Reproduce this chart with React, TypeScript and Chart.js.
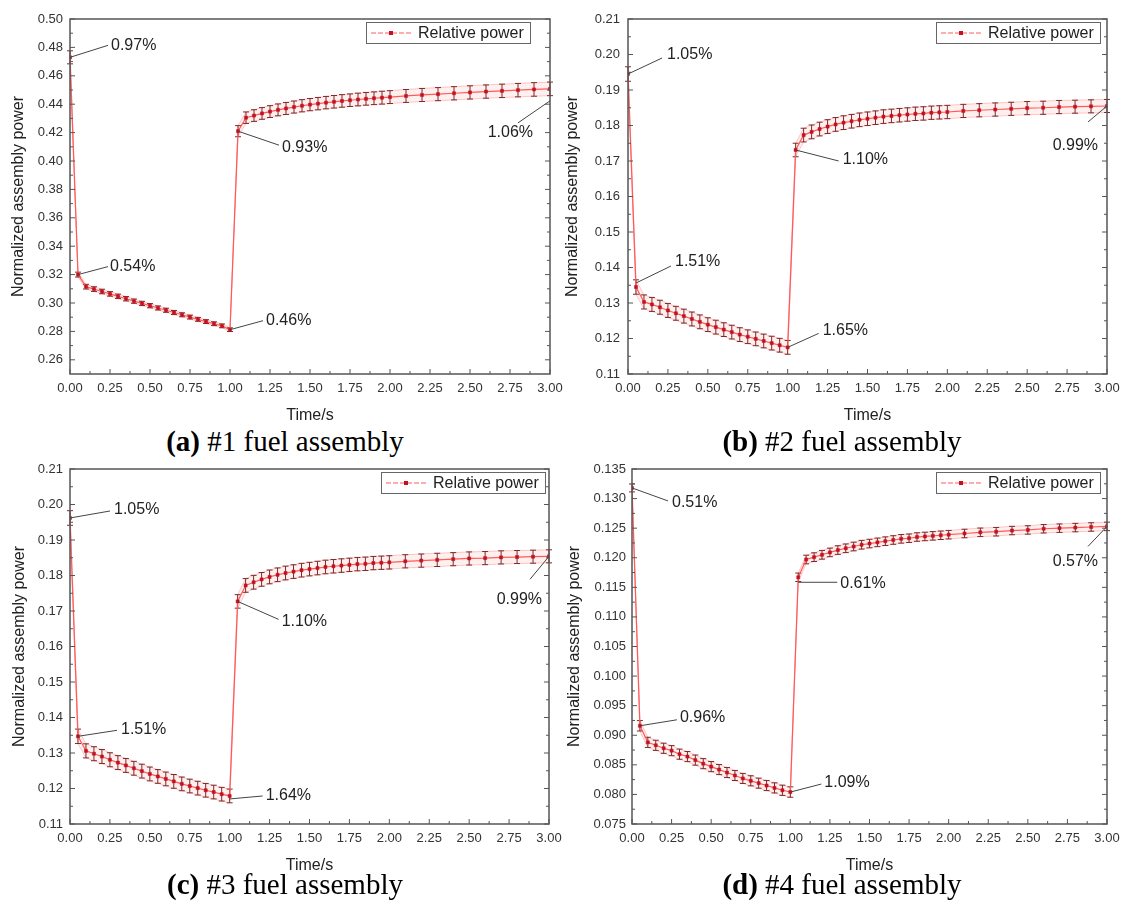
import React, { useEffect, useRef } from "react";
import { Chart, registerables } from "chart.js";

Chart.register(...registerables);

// ---------- data ----------
const timeS = [
  0, 0.05,
  0.1, 0.15, 0.2, 0.25, 0.3, 0.35, 0.4, 0.45, 0.5, 0.55, 0.6, 0.65, 0.7, 0.75, 0.8, 0.85, 0.9, 0.95, 1.0,
  1.05,
  1.1, 1.15, 1.2, 1.25, 1.3, 1.35, 1.4, 1.45, 1.5, 1.55, 1.6, 1.65, 1.7, 1.75, 1.8, 1.85, 1.9, 1.95, 2.0,
  2.1, 2.2, 2.3, 2.4, 2.5, 2.6, 2.7, 2.8, 2.9, 3.0,
];

const xTicks = [0, 0.25, 0.5, 0.75, 1, 1.25, 1.5, 1.75, 2, 2.25, 2.5, 2.75, 3];

// #1 fuel assembly
const powerA = [
  0.473, 0.320,
  0.3115, 0.3098, 0.3081, 0.3064, 0.3047, 0.3030, 0.3013, 0.2997, 0.2981, 0.2965,
  0.2949, 0.2933, 0.2917, 0.2901, 0.2885, 0.2869, 0.2854, 0.2839, 0.2812,
  0.421,
  0.4305, 0.4320, 0.4335, 0.4348, 0.4360, 0.4370, 0.4380, 0.4389, 0.4397, 0.4404,
  0.4411, 0.4417, 0.4423, 0.4428, 0.4433, 0.4438, 0.4442, 0.4446, 0.4450,
  0.4458, 0.4465, 0.4471, 0.4477, 0.4483, 0.4489, 0.4494, 0.4499, 0.4504, 0.4508,
];
const errA = [
  0.97, 0.54,
  0.53, 0.53, 0.52, 0.52, 0.51, 0.51, 0.50, 0.50, 0.50, 0.49,
  0.49, 0.49, 0.48, 0.48, 0.48, 0.47, 0.47, 0.47, 0.46,
  0.93,
  0.94, 0.95, 0.95, 0.96, 0.96, 0.97, 0.97, 0.98, 0.98, 0.99,
  0.99, 1.00, 1.00, 1.00, 1.01, 1.01, 1.01, 1.02, 1.02,
  1.02, 1.03, 1.03, 1.04, 1.04, 1.04, 1.05, 1.05, 1.06, 1.06,
];

// #2 fuel assembly
const powerB = [
  0.1945, 0.1345,
  0.1303, 0.1296, 0.1288, 0.1279, 0.1271, 0.1263, 0.1255, 0.1247, 0.1239, 0.1232,
  0.1225, 0.1218, 0.1211, 0.1205, 0.1199, 0.1193, 0.1187, 0.1181, 0.1175,
  0.1731,
  0.1773, 0.1782, 0.1790, 0.1797, 0.1803, 0.1808, 0.1812, 0.1816, 0.1819, 0.1822,
  0.1825, 0.1827, 0.1829, 0.1831, 0.1833, 0.1834, 0.1836, 0.1837, 0.1838,
  0.1841, 0.1843, 0.1845, 0.1847, 0.1849, 0.1850, 0.1852, 0.1853, 0.1854, 0.1855,
];
const errB = [
  1.05, 1.51,
  1.52, 1.52, 1.53, 1.54, 1.54, 1.55, 1.56, 1.56, 1.57, 1.58,
  1.58, 1.59, 1.60, 1.60, 1.61, 1.62, 1.63, 1.64, 1.65,
  1.10,
  1.09, 1.09, 1.08, 1.08, 1.07, 1.07, 1.06, 1.06, 1.05, 1.05,
  1.05, 1.04, 1.04, 1.03, 1.03, 1.03, 1.02, 1.02, 1.02,
  1.01, 1.01, 1.01, 1.00, 1.00, 1.00, 1.00, 0.99, 0.99, 0.99,
];

// #3 fuel assembly
const powerC = [
  0.1962, 0.1347,
  0.1306, 0.1298, 0.1290, 0.1281, 0.1273, 0.1265, 0.1257, 0.1249, 0.1241, 0.1234,
  0.1227, 0.1220, 0.1213, 0.1207, 0.1201, 0.1195, 0.1190, 0.1184, 0.1179,
  0.1727,
  0.1772, 0.1781, 0.1789, 0.1796, 0.1802, 0.1807, 0.1811, 0.1815, 0.1818, 0.1821,
  0.1824, 0.1826, 0.1828, 0.1830, 0.1832, 0.1833, 0.1835, 0.1836, 0.1837,
  0.1840, 0.1842, 0.1844, 0.1846, 0.1848, 0.1849, 0.1851, 0.1852, 0.1853, 0.1854,
];
const errC = [
  1.05, 1.51,
  1.52, 1.52, 1.53, 1.54, 1.54, 1.55, 1.55, 1.56, 1.57, 1.57,
  1.58, 1.59, 1.59, 1.60, 1.61, 1.61, 1.62, 1.63, 1.64,
  1.10,
  1.09, 1.09, 1.08, 1.08, 1.07, 1.07, 1.06, 1.06, 1.05, 1.05,
  1.05, 1.04, 1.04, 1.03, 1.03, 1.03, 1.02, 1.02, 1.02,
  1.01, 1.01, 1.01, 1.00, 1.00, 1.00, 1.00, 0.99, 0.99, 0.99,
];

// #4 fuel assembly
const powerD = [
  0.1318, 0.0916,
  0.0888, 0.0883, 0.0878, 0.0874, 0.0868, 0.0864, 0.0858, 0.0852, 0.0847, 0.0842,
  0.0837, 0.0832, 0.0827, 0.0823, 0.0819, 0.0815, 0.0811, 0.0807, 0.0804,
  0.1167,
  0.1197, 0.1201, 0.1205, 0.1209, 0.1213, 0.1216, 0.1219, 0.1222, 0.1224, 0.1226,
  0.1228, 0.1230, 0.1232, 0.1233, 0.1235, 0.1236, 0.1237, 0.1238, 0.1239,
  0.1241, 0.1243, 0.1244, 0.1246, 0.1247, 0.1249, 0.1250, 0.1251, 0.1252, 0.1253,
];
const errD = [
  0.51, 0.96,
  0.97, 0.97, 0.98, 0.98, 0.99, 0.99, 1.00, 1.00, 1.01, 1.01,
  1.02, 1.02, 1.03, 1.04, 1.04, 1.05, 1.06, 1.07, 1.09,
  0.61,
  0.61, 0.61, 0.61, 0.60, 0.60, 0.60, 0.60, 0.60, 0.59, 0.59,
  0.59, 0.59, 0.59, 0.58, 0.58, 0.58, 0.58, 0.58, 0.58,
  0.58, 0.58, 0.58, 0.57, 0.57, 0.57, 0.57, 0.57, 0.57, 0.57,
];

const yTicksA = [0.26, 0.28, 0.30, 0.32, 0.34, 0.36, 0.38, 0.40, 0.42, 0.44, 0.46, 0.48, 0.50];
const yTicksBC = [0.11, 0.12, 0.13, 0.14, 0.15, 0.16, 0.17, 0.18, 0.19, 0.20, 0.21];
const yTicksD = [0.075, 0.080, 0.085, 0.090, 0.095, 0.100, 0.105, 0.110, 0.115, 0.120, 0.125, 0.130, 0.135];
const yRangeA = [0.25, 0.50];
const yRangeBC = [0.11, 0.21];
const yRangeD = [0.075, 0.135];

const seriesLabel = "Relative power";
const xTitle = "Time/s";
const yTitle = "Normalized assembly power";
const captionTags = ["(a)", "(b)", "(c)", "(d)"];
const captionTexts = ["#1 fuel assembly", "#2 fuel assembly", "#3 fuel assembly", "#4 fuel assembly"];

// ---------- styles / layout ----------
const SANS = '"Liberation Sans", Arial, sans-serif';
const SERIF = '"Liberation Serif", "Times New Roman", serif';
const LINE_COLOR = "#ff5a5a";
const MARK_COLOR = "#c4101f";
const ERR_COLOR = "#7a2a2a";
const AXIS_COLOR = "#555";

type Ann = { i: number; sx?: number; sy?: number; lx: number; ly: number; tx: number; ty: number; align: CanvasTextAlign };

type PanelCfg = {
  values: number[]; errs: number[]; yTicks: number[]; yRange: number[]; digits: number;
  left: number; top: number; width: number; height: number;
  yAxisW: number; padRight: number; yTitlePad: number; yTickPad: number; legendGap: number;
  capCenter: number; capTop: number; tag: string; text: string; anns: Ann[];
};

const panels: PanelCfg[] = [
  {
    values: powerA, errs: errA, yTicks: yTicksA, yRange: yRangeA, digits: 2,
    left: 0, top: 0, width: 574, height: 425, yAxisW: 70, padRight: 24, yTitlePad: 9, yTickPad: 7, legendGap: 20,
    capCenter: 285, capTop: 427, tag: captionTags[0], text: captionTexts[0],
    anns: [
      { i: 0, lx: 38, ly: -12, tx: 41, ty: -12, align: "left" },
      { i: 1, lx: 30, ly: -8, tx: 32, ty: -8, align: "left" },
      { i: 20, lx: 33, ly: -9, tx: 36, ty: -9, align: "left" },
      { i: 21, lx: 41, ly: 14, tx: 44, ty: 16, align: "left" },
      { i: 50, sy: 12, lx: -32, ly: 34, tx: -17, ty: 44, align: "right" },
    ],
  },
  {
    values: powerB, errs: errB, yTicks: yTicksBC, yRange: yRangeBC, digits: 2,
    left: 560, top: 0, width: 566, height: 425, yAxisW: 68, padRight: 19, yTitlePad: 3, yTickPad: 8, legendGap: 7,
    capCenter: 842, capTop: 427, tag: captionTags[1], text: captionTexts[1],
    anns: [
      { i: 0, lx: 34, ly: -16, tx: 39, ty: -19, align: "left" },
      { i: 1, sy: -4, lx: 35, ly: -21, tx: 39, ty: -25, align: "left" },
      { i: 20, lx: 31, ly: -14, tx: 35, ty: -17, align: "left" },
      { i: 21, lx: 43, ly: 11, tx: 47, ty: 10, align: "left" },
      { i: 50, lx: -19, ly: 16, tx: -9, ty: 40, align: "right" },
    ],
  },
  {
    values: powerC, errs: errC, yTicks: yTicksBC, yRange: yRangeBC, digits: 2,
    left: 0, top: 450, width: 574, height: 425, yAxisW: 70, padRight: 25, yTitlePad: 10, yTickPad: 7, legendGap: 4,
    capCenter: 285, capTop: 870, tag: captionTags[2], text: captionTexts[2],
    anns: [
      { i: 0, lx: 40, ly: -7, tx: 44, ty: -8, align: "left" },
      { i: 1, lx: 39, ly: -6, tx: 43, ty: -7, align: "left" },
      { i: 20, sy: 3, lx: 33, ly: 0, tx: 36, ty: 0, align: "left" },
      { i: 21, lx: 41, ly: 18, tx: 44, ty: 20, align: "left" },
      { i: 50, lx: -19, ly: 23, tx: -7, ty: 43, align: "right" },
    ],
  },
  {
    values: powerD, errs: errD, yTicks: yTicksD, yRange: yRangeD, digits: 3,
    left: 560, top: 450, width: 566, height: 425, yAxisW: 72, padRight: 19, yTitlePad: 5, yTickPad: 6, legendGap: 7,
    capCenter: 842, capTop: 870, tag: captionTags[3], text: captionTexts[3],
    anns: [
      { i: 0, lx: 36, ly: 13, tx: 40, ty: 15, align: "left" },
      { i: 1, lx: 37, ly: -6, tx: 40, ty: -8, align: "left" },
      { i: 20, lx: 31, ly: -8, tx: 34, ty: -9, align: "left" },
      { i: 21, sy: 5, lx: 39, ly: 5, tx: 42, ty: 6, align: "left" },
      { i: 50, lx: -19, ly: 20, tx: -9, ty: 35, align: "right" },
    ],
  },
];

function line(ctx: CanvasRenderingContext2D, x1: number, y1: number, x2: number, y2: number) {
  ctx.beginPath();
  ctx.moveTo(x1, y1);
  ctx.lineTo(x2, y2);
  ctx.stroke();
}

function makePlugin(p: PanelCfg) {
  return {
    id: "deco",
    beforeDatasetDraw(chart: any, args: any) {
      if (args.index !== 0) return;
      const ctx: CanvasRenderingContext2D = chart.ctx;
      const xs = chart.scales.x;
      const ys = chart.scales.y;
      ctx.save();
      ctx.strokeStyle = ERR_COLOR;
      ctx.lineWidth = 1;
      p.values.forEach((v, i) => {
        const x = xs.getPixelForValue(timeS[i]);
        const e = (v * p.errs[i]) / 100;
        const y1 = ys.getPixelForValue(v + e);
        const y2 = ys.getPixelForValue(v - e);
        line(ctx, x, y1, x, y2);
        line(ctx, x - 3, y1, x + 3, y1);
        line(ctx, x - 3, y2, x + 3, y2);
      });
      ctx.restore();
    },
    afterDraw(chart: any) {
      const ctx: CanvasRenderingContext2D = chart.ctx;
      const xs = chart.scales.x;
      const ys = chart.scales.y;
      const { left, right, top, bottom } = chart.chartArea;
      ctx.save();
      // inward ticks
      ctx.strokeStyle = AXIS_COLOR;
      ctx.lineWidth = 1;
      xTicks.forEach((t, k) => {
        const x = xs.getPixelForValue(t);
        line(ctx, x, bottom, x, bottom - 5);
        if (k < xTicks.length - 1) {
          const xm = xs.getPixelForValue((t + xTicks[k + 1]) / 2);
          line(ctx, xm, bottom, xm, bottom - 3);
        }
      });
      const yt = p.yTicks;
      yt.forEach((t, k) => {
        const y = ys.getPixelForValue(t);
        line(ctx, left, y, left + 5, y);
        line(ctx, right, y, right - 5, y);
        if (k < yt.length - 1) {
          const ym = ys.getPixelForValue((t + yt[k + 1]) / 2);
          line(ctx, left, ym, left + 3, ym);
          line(ctx, right, ym, right - 3, ym);
        }
      });
      // frame
      ctx.lineWidth = 1.5;
      ctx.strokeRect(left, top, right - left, bottom - top);

      // annotations
      ctx.font = `16px ${SANS}`;
      ctx.textBaseline = "middle";
      p.anns.forEach((a) => {
        const px = xs.getPixelForValue(timeS[a.i]);
        const py = ys.getPixelForValue(p.values[a.i]);
        ctx.strokeStyle = "#444";
        ctx.lineWidth = 1;
        line(ctx, px + (a.sx || 0), py + (a.sy || 0), px + a.lx, py + a.ly);
        ctx.fillStyle = "#222";
        ctx.textAlign = a.align;
        ctx.fillText(p.errs[a.i].toFixed(2) + "%", px + a.tx, py + a.ty);
      });

      // legend
      ctx.font = `16px ${SANS}`;
      const tw = ctx.measureText(seriesLabel).width;
      const bw = Math.round(52 + tw + 6);
      const bh = 21;
      const bx = Math.round(right - p.legendGap - bw);
      const by = top + 3;
      ctx.fillStyle = "#fff";
      ctx.fillRect(bx, by, bw, bh);
      ctx.strokeStyle = "#666";
      ctx.lineWidth = 1;
      ctx.strokeRect(bx + 0.5, by + 0.5, bw, bh);
      const cy = by + bh / 2 + 0.5;
      ctx.strokeStyle = LINE_COLOR;
      ctx.setLineDash([5, 2]);
      line(ctx, bx + 5, cy, bx + 45, cy);
      ctx.setLineDash([]);
      ctx.fillStyle = MARK_COLOR;
      ctx.fillRect(bx + 23, cy - 2, 4, 4);
      ctx.fillStyle = "#222";
      ctx.textAlign = "left";
      ctx.textBaseline = "middle";
      ctx.fillText(seriesLabel, bx + 52, cy + 1);
      ctx.restore();
    },
  };
}

function Panel({ p }: { p: PanelCfg }) {
  const ref = useRef<HTMLCanvasElement>(null);
  useEffect(() => {
    const upper = p.values.map((v, i) => ({ x: timeS[i], y: v * (1 + p.errs[i] / 100) }));
    const lower = p.values.map((v, i) => ({ x: timeS[i], y: v * (1 - p.errs[i] / 100) }));
    const main = p.values.map((v, i) => ({ x: timeS[i], y: v }));
    const chart = new Chart(ref.current as HTMLCanvasElement, {
      type: "line",
      data: {
        datasets: [
          {
            label: seriesLabel,
            data: main,
            borderColor: LINE_COLOR,
            borderWidth: 1.2,
            pointStyle: "rect",
            pointRadius: 2.2,
            pointBackgroundColor: MARK_COLOR,
            pointBorderColor: MARK_COLOR,
            pointBorderWidth: 0.5,
            tension: 0,
            fill: false,
          },
          {
            label: "upper",
            data: upper,
            borderColor: "rgba(255,130,130,0.45)",
            backgroundColor: "rgba(255,170,170,0.18)",
            borderWidth: 1,
            pointRadius: 0,
            tension: 0,
            fill: "+1",
          },
          {
            label: "lower",
            data: lower,
            borderColor: "rgba(255,130,130,0.45)",
            borderWidth: 1,
            pointRadius: 0,
            tension: 0,
            fill: false,
          },
        ],
      },
      options: {
        responsive: false,
        animation: false,
        events: [],
        layout: { padding: { top: 19, right: p.padRight, left: 0, bottom: 0 } },
        plugins: { legend: { display: false }, tooltip: { enabled: false } },
        scales: {
          x: {
            type: "linear",
            min: 0,
            max: 3,
            grid: { display: false, drawTicks: false },
            border: { display: false },
            afterBuildTicks: (s: any) => {
              s.ticks = xTicks.map((v) => ({ value: v }));
            },
            afterFit: (s: any) => {
              s.height = 51;
              s.paddingLeft = 0;
              s.paddingRight = 0;
            },
            ticks: {
              autoSkip: false,
              maxRotation: 0,
              padding: 7,
              color: "#333",
              font: { family: SANS, size: 13 },
              callback: (v: any) => Number(v).toFixed(2),
            },
            title: {
              display: true,
              text: xTitle,
              color: "#222",
              font: { family: SANS, size: 16 },
              padding: { top: 0, bottom: 0 },
            },
          },
          y: {
            type: "linear",
            min: p.yRange[0],
            max: p.yRange[1],
            grid: { display: false, drawTicks: false },
            border: { display: false },
            afterBuildTicks: (s: any) => {
              s.ticks = p.yTicks.map((v) => ({ value: v }));
            },
            afterFit: (s: any) => {
              s.width = p.yAxisW;
              s.paddingTop = 0;
              s.paddingBottom = 0;
            },
            ticks: {
              autoSkip: false,
              padding: p.yTickPad,
              color: "#333",
              font: { family: SANS, size: 13 },
              callback: (v: any) => Number(v).toFixed(p.digits),
            },
            title: {
              display: true,
              text: yTitle,
              color: "#222",
              font: { family: SANS, size: 16 },
              padding: { top: p.yTitlePad, bottom: 0 },
            },
          },
        },
      } as any,
      plugins: [makePlugin(p)],
    });
    return () => chart.destroy();
  }, [p]);
  return (
    <>
      <div style={{ position: "absolute", left: p.left, top: p.top, width: p.width, height: p.height }}>
        <canvas ref={ref} width={p.width} height={p.height} style={{ display: "block" }} />
      </div>
      <div
        style={{
          position: "absolute",
          left: p.capCenter - 200,
          top: p.capTop,
          width: 400,
          textAlign: "center",
          fontFamily: SERIF,
          fontSize: 29,
          lineHeight: "29px",
          color: "#000",
          whiteSpace: "nowrap",
        }}
      >
        <b>{p.tag}</b> {p.text}
      </div>
    </>
  );
}

export default function App() {
  return (
    <div style={{ position: "absolute", left: 0, top: 0, width: 1126, height: 910, background: "#fff", overflow: "hidden" }}>
      {panels.map((p, k) => (
        <Panel key={k} p={p} />
      ))}
    </div>
  );
}
